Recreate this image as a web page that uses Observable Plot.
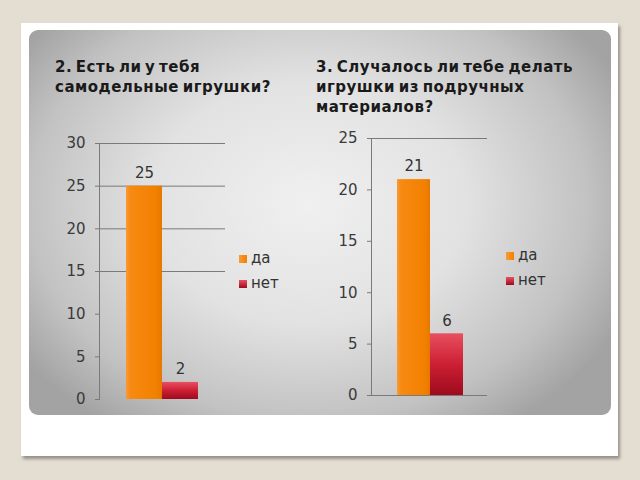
<!DOCTYPE html>
<html><head><meta charset="utf-8">
<script src="https://cdn.jsdelivr.net/npm/d3@7"></script>
<script src="https://cdn.jsdelivr.net/npm/@observablehq/plot@0.6"></script>
<style>
html,body{margin:0;padding:0;}
#stage{position:relative;width:640px;height:480px;background:#e4ddd2;overflow:hidden;font-family:"DejaVu Sans",Verdana,sans-serif;}
#card{position:absolute;left:21px;top:23px;width:597px;height:433px;background:#fff;box-shadow:2px 3px 3px rgba(0,0,0,0.35);}
#panel{position:absolute;left:29px;top:30px;width:582px;height:385px;border-radius:9px;
 background:radial-gradient(ellipse 60% 70% at 48% 45%, #f0f0f0 0%, #e2e2e2 45%, #c2c2c2 80%, #a3a3a3 100%);}
.title{position:absolute;font-weight:bold;font-size:15px;line-height:20px;color:#1a1a1a;white-space:nowrap;letter-spacing:0.5px;word-spacing:-2px;}
.chart{position:absolute;}
.legend{position:absolute;font-size:15px;color:#333;line-height:25px;}
.legend div{display:flex;align-items:center;}
.legend span.sw{display:inline-block;width:8px;height:8px;margin-right:4px;}
</style></head>
<body>
<div id="stage">
 <div id="card"></div>
 <div id="panel"></div>
 <svg width="0" height="0" style="position:absolute">
  <defs>
   <linearGradient id="gOrange" x1="0" x2="1" y1="0" y2="0">
    <stop offset="0" stop-color="#f99a35"/><stop offset="0.12" stop-color="#f78a12"/>
    <stop offset="0.85" stop-color="#f28000"/><stop offset="1" stop-color="#e67800"/>
   </linearGradient>
   <linearGradient id="gRed" x1="0" x2="0" y1="0" y2="1">
    <stop offset="0" stop-color="#e8505f"/><stop offset="0.5" stop-color="#cc1f34"/>
    <stop offset="1" stop-color="#9e0b1d"/>
   </linearGradient>
  </defs>
 </svg>
 <div class="title" style="left:55px;top:57px;">2. Есть ли у тебя<br>самодельные игрушки?</div>
 <div class="title" style="left:316px;top:57px;">3. Случалось ли тебе делать<br>игрушки из подручных<br>материалов?</div>
 <div id="c1" class="chart" style="left:40px;top:120px;"></div>
 <div id="c2" class="chart" style="left:320px;top:120px;"></div>
 <div class="legend" style="left:239px;top:246px;">
  <div><span class="sw" style="background:linear-gradient(90deg,#f99a35,#f28000)"></span>да</div>
  <div><span class="sw" style="background:linear-gradient(#e8505f,#9e0b1d)"></span>нет</div>
 </div>
 <div class="legend" style="left:506px;top:243px;">
  <div><span class="sw" style="background:linear-gradient(90deg,#f99a35,#f28000)"></span>да</div>
  <div><span class="sw" style="background:linear-gradient(#e8505f,#9e0b1d)"></span>нет</div>
 </div>
</div>
<script>
const categories = ["да", "нет"];
const values1 = [25, 2];
const values2 = [21, 6];
const ticks1 = [0, 5, 10, 15, 20, 25, 30];
const ticks2 = [0, 5, 10, 15, 20, 25];
const grid1 = [15, 20, 25, 30];
const grid2 = [0, 25];
const fills = {"да": "url(#gOrange)", "нет": "url(#gRed)"};

function makeChart(values, ticks, grid, opts) {
  const data = categories.map((c, i) => ({cat: c, v: values[i]}));
  return Plot.plot({
    width: opts.width, height: opts.height,
    marginLeft: opts.ml, marginTop: opts.mt, marginBottom: opts.mb, marginRight: opts.mr,
    style: {background: "transparent", fontFamily: "DejaVu Sans, Verdana, sans-serif", fontSize: "15px", color: "#3a3a3a", overflow: "visible"},
    x: {domain: categories, range: opts.xr, padding: 0, axis: null},
    y: {domain: [0, ticks[ticks.length - 1]], axis: null},
    marks: [
      Plot.ruleY(grid, {stroke: "#7a7a7a", strokeWidth: 1, strokeOpacity: 1}),
      Plot.frame({anchor: "left", stroke: "#7a7a7a"}),
      Plot.barY(data, {x: "cat", y: "v", fill: d => fills[d.cat]}),
      Plot.text(data, {x: "cat", y: "v", text: d => String(d.v), dy: -13, fill: "#333", fontSize: 15}),
      Plot.axisY({ticks: ticks, tickSize: 4, tickPadding: 10, label: null, stroke: "#7a7a7a", fill: "#3a3a3a", strokeOpacity: 1})
    ]
  });
}
const p1 = makeChart(values1, ticks1, grid1, {width: 200, height: 290, ml: 59, mt: 23, mb: 11, mr: 15, xr: [86, 158]});
const p2 = makeChart(values2, ticks2, grid2, {width: 180, height: 290, ml: 51, mt: 18, mb: 15, mr: 13, xr: [76, 143]});
document.getElementById("c1").appendChild(p1);
document.getElementById("c2").appendChild(p2);
</script>
</body></html>
